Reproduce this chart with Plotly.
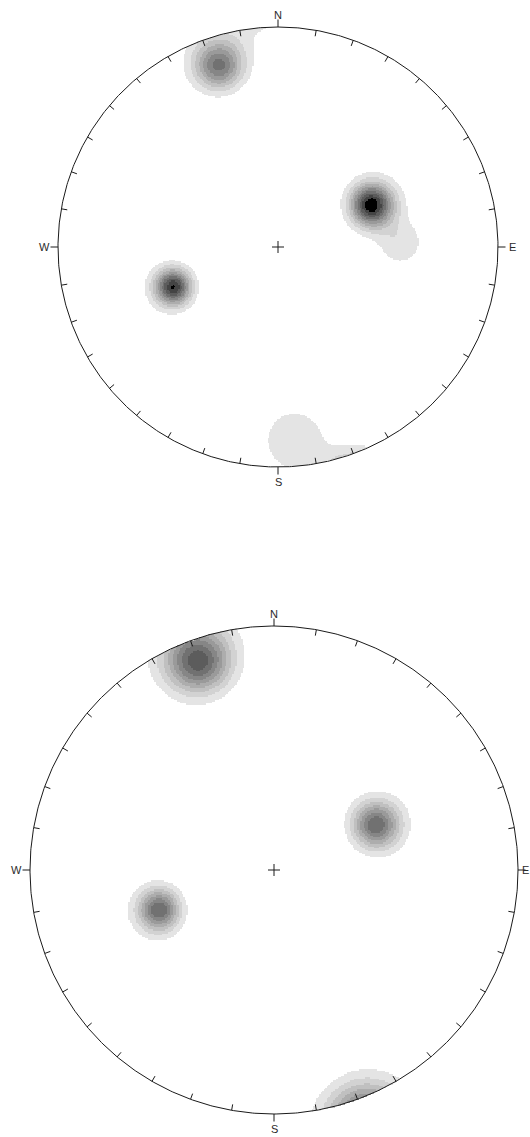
import numpy as np
import plotly.graph_objects as go

W_PX, H_PX = 530, 1137

# Pole concentrations for the upper net: trend (deg), plunge (deg), peak density, spread (deg)
top_trend = [342, 66, 88, 249, 175]
top_plunge = [8, 40, 32, 36, 7.5]
top_peak = [0.74, 1.10, 0.18, 1.01, 0.18]
top_spread = [5.1, 6.3, 6.6, 5.2, 7.2]

# Pole concentrations for the lower net
bot_trend = [340, 66, 251]
bot_plunge = [5.2, 41, 37]
bot_peak = [0.88, 0.80, 0.80]
bot_spread = [5.9, 6.3, 5.5]

# Contour levels and fill greys (light to dark)
levels = [0.1, 0.2, 0.3, 0.4, 0.5, 0.6, 0.7, 0.8, 0.9, 1.0]
band_colors = ["#e4e4e4", "#d2d2d2", "#c0c0c0", "#adadad", "#9a9a9a",
               "#868686", "#717171", "#5c5c5c", "#444444", "#000000"]

cardinals = ["N", "E", "S", "W"]


def unit_vec(trend, plunge):
    t, p = np.radians(trend), np.radians(plunge)
    return np.stack([np.cos(p) * np.sin(t), np.cos(p) * np.cos(t), np.sin(p)], axis=-1)


def density_grid(trends, plunges, peaks, spreads, n=321):
    # equal-angle (Wulff) lower-hemisphere grid
    g = np.linspace(-1, 1, n)
    X, Y = np.meshgrid(g, g)
    rho = np.hypot(X, Y)
    inside = rho <= 1.0
    theta = 2 * np.degrees(np.arctan(np.clip(rho, 0, 1)))
    plunge = 90 - theta
    trend = np.degrees(np.arctan2(X, Y))
    v = unit_vec(trend, plunge)
    d = np.zeros_like(X)
    for tr, pl, pk, sp in zip(trends, plunges, peaks, spreads):
        pv = unit_vec(tr, pl)
        c = np.abs(v @ pv)
        ang = np.degrees(np.arccos(np.clip(c, -1, 1)))
        d += pk * np.exp(-ang ** 2 / (2 * sp ** 2))
    idx = np.searchsorted(levels, d, side="right").astype(float)
    idx[idx == 0] = np.nan
    idx[~inside] = np.nan
    return g, idx


def discrete_scale():
    n = len(band_colors)
    scale = []
    for i, c in enumerate(band_colors):
        scale.append([i / n, c])
        scale.append([(i + 1) / n, c])
    return scale


fig = go.Figure()

nets = [
    dict(data=(top_trend, top_plunge, top_peak, top_spread), R=220.0, cx=278.0, cy=247.0,
         xa="x", ya="y", dom=[0.5, 1.0], px_top=0.0, px_bot=H_PX / 2),
    dict(data=(bot_trend, bot_plunge, bot_peak, bot_spread), R=244.0, cx=274.0, cy=870.0,
         xa="x2", ya="y2", dom=[0.0, 0.5], px_top=H_PX / 2, px_bot=H_PX),
]

for k, net in enumerate(nets):
    R = net["R"]
    g, idx = density_grid(*net["data"])
    fig.add_trace(go.Heatmap(
        x=g, y=g, z=idx, zmin=0.5, zmax=len(band_colors) + 0.5,
        colorscale=discrete_scale(), showscale=False, hoverinfo="skip",
        xaxis=net["xa"], yaxis=net["ya"], zsmooth=False,
    ))

    # primitive circle
    a = np.linspace(0, 2 * np.pi, 721)
    fig.add_trace(go.Scatter(x=np.sin(a), y=np.cos(a), mode="lines",
                             line=dict(color="#1a1a1a", width=1), hoverinfo="skip",
                             xaxis=net["xa"], yaxis=net["ya"], showlegend=False))

    # 10-degree ticks: inward, cardinal ones outward
    tx, ty = [], []
    for deg in range(0, 360, 10):
        r = np.radians(deg)
        if deg % 90 == 0:
            r0, r1 = 1.0, 1.0 + 7.5 / R
        else:
            r0, r1 = 1.0, 1.0 - 6.0 / R
        tx += [r0 * np.sin(r), r1 * np.sin(r), None]
        ty += [r0 * np.cos(r), r1 * np.cos(r), None]
    # centre cross
    c = 6.0 / R
    tx += [-c, c, None, 0, 0, None]
    ty += [0, 0, None, -c, c, None]
    fig.add_trace(go.Scatter(x=tx, y=ty, mode="lines", line=dict(color="#1a1a1a", width=1),
                             hoverinfo="skip", xaxis=net["xa"], yaxis=net["ya"], showlegend=False))

    # cardinal labels in paper space, kept inside the page width
    cx, cy = net["cx"], net["cy"]
    spots = [(cx, cy - R - 12.5), (min(cx + R + 14.0, W_PX - 5.0), cy),
             (cx, cy + R + 15.0), (cx - R - 14.0, cy)]
    for lab, (px, py) in zip(cardinals, spots):
        fig.add_annotation(x=px / W_PX, y=1 - py / H_PX, text=lab, showarrow=False,
                           xref="paper", yref="paper", xanchor="center", yanchor="middle",
                           font=dict(family="Liberation Sans, Arial", size=11, color="#2a2a2a"))

    xr = [-cx / R, (W_PX - cx) / R]
    yr = [-(net["px_bot"] - cy) / R, (cy - net["px_top"]) / R]
    axis_common = dict(visible=False, showgrid=False, zeroline=False, fixedrange=True)
    suffix = "" if k == 0 else "2"
    fig.update_layout(**{
        "xaxis" + suffix: dict(domain=[0, 1], range=xr, anchor="y" + suffix, **axis_common),
        "yaxis" + suffix: dict(domain=net["dom"], range=yr, anchor="x" + suffix, **axis_common),
    })

fig.update_layout(width=W_PX, height=H_PX, margin=dict(l=0, r=0, t=0, b=0),
                  paper_bgcolor="white", plot_bgcolor="white", showlegend=False)

fig.write_html("out.html")
